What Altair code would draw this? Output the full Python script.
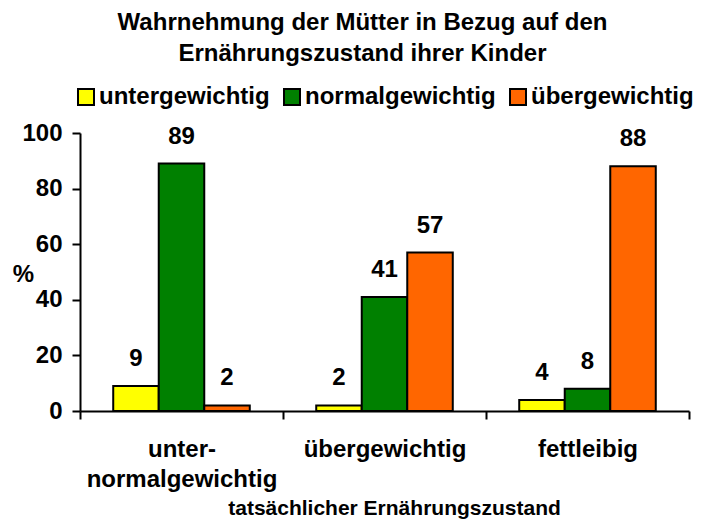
import altair as alt
import pandas as pd

categories = ["unter-|normalgewichtig", "übergewichtig", "fettleibig"]
series = ["untergewichtig", "normalgewichtig", "übergewichtig"]
untergewichtig = [9, 2, 4]
normalgewichtig = [89, 41, 8]
uebergewichtig = [2, 57, 88]
colors = ["#FFFF00", "#008000", "#FF6600"]
y_ticks = [0, 20, 40, 60, 80, 100]

rows = []
for i, c in enumerate(categories):
    for s, vals in zip(series, [untergewichtig, normalgewichtig, uebergewichtig]):
        rows.append({"Zustand": c, "Wahrnehmung": s, "Wert": vals[i]})
df = pd.DataFrame(rows)

FONT = "Liberation Sans"

x = alt.X(
    "Zustand:N",
    sort=categories,
    scale=alt.Scale(paddingInner=0, paddingOuter=0),
    axis=alt.Axis(
        title="tatsächlicher Ernährungszustand",
        labelAngle=0,
        labelExpr="split(datum.label, '|')",
        labelFontSize=24,
        labelFont=FONT,
        labelFontWeight="bold",
        labelColor="black",
        labelPadding=18,
        labelLineHeight=30,
        labelLimit=0,
        tickBand="extent",
        tickSize=8,
        tickWidth=2,
        tickColor="black",
        domainColor="black",
        domainWidth=2,
        titleFontSize=21,
        titleFont=FONT,
        titleFontWeight="bold",
        titleColor="black",
        titleAlign="center",
        titleBaseline="alphabetic",
        titleX=314,
        titleY=103,
        grid=False,
    ),
)
xo = alt.XOffset(
    "Wahrnehmung:N",
    sort=series,
    scale=alt.Scale(paddingInner=0, paddingOuter=0.73),
)
y = alt.Y(
    "Wert:Q",
    scale=alt.Scale(domain=[0, 100], nice=False),
    axis=alt.Axis(
        title="%",
        values=y_ticks,
        labelFontSize=24,
        labelFont=FONT,
        labelFontWeight="bold",
        labelColor="black",
        labelPadding=10,
        tickSize=8,
        tickWidth=2,
        tickColor="black",
        domainColor="black",
        domainWidth=2,
        titleAngle=0,
        titleFontSize=24,
        titleFont=FONT,
        titleFontWeight="bold",
        titleColor="black",
        titleAlign="center",
        titleBaseline="middle",
        titleX=-57,
        titleY=141,
        grid=False,
    ),
)

bars = alt.Chart(df).mark_bar(stroke="black", strokeWidth=2).encode(
    x=x,
    xOffset=xo,
    y=y,
    color=alt.Color(
        "Wahrnehmung:N",
        sort=series,
        scale=alt.Scale(domain=series, range=colors),
        legend=alt.Legend(
            title=None,
            orient="none",
            direction="horizontal",
            legendX=-6,
            legendY=-48,
            symbolType="square",
            symbolSize=256,
            symbolStrokeColor="black",
            symbolStrokeWidth=2,
            symbolOpacity=1,
            labelFontSize=24,
            labelFont=FONT,
            labelFontWeight="bold",
            labelColor="black",
            labelLimit=0,
            labelOffset=1,
            columnPadding=10,
            padding=0,
        ),
    ),
)

labels = alt.Chart(df).mark_text(
    font=FONT, fontSize=24, fontWeight="bold", color="black",
    baseline="alphabetic", dy=-20,
).encode(x=x, xOffset=xo, y=y, text="Wert:Q")

chart = alt.layer(bars, labels).properties(
    width=609,
    height=278,
    title=alt.TitleParams(
        text=["Wahrnehmung der Mütter in Bezug auf den", "Ernährungszustand ihrer Kinder"],
        font=FONT,
        fontSize=24,
        fontWeight="bold",
        color="black",
        lineHeight=31,
        anchor="middle",
        dx=-22,
        dy=-15,
    ),
    autosize=alt.AutoSizeParams(type="none"),
    padding={"left": 72, "top": 125, "right": 15, "bottom": 108},
    background="white",
).configure_view(stroke=None)

chart.save("out.html", embed_options={"renderer": "svg", "actions": False})
